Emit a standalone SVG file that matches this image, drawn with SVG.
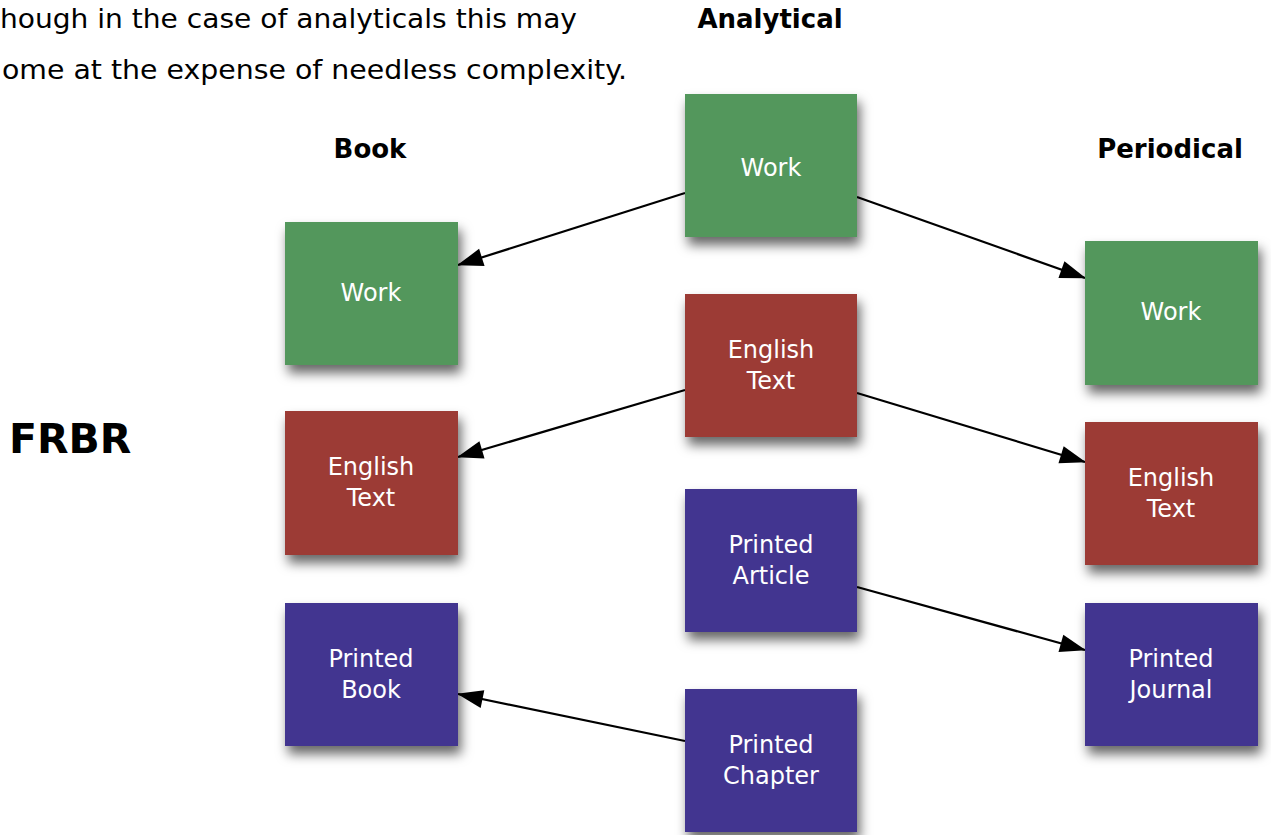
<svg xmlns="http://www.w3.org/2000/svg" width="1271" height="835" viewBox="0 0 1271 835">
<style>
.body{font-family:"DejaVu Sans","Liberation Sans",sans-serif;font-size:27px;fill:#000}
.hdr{font-family:"DejaVu Sans","Liberation Sans",sans-serif;font-size:26px;font-weight:bold;fill:#000;text-anchor:middle}
.big{font-family:"DejaVu Sans","Liberation Sans",sans-serif;font-size:41px;font-weight:bold;fill:#000}
.lbl{font-family:"DejaVu Sans","Liberation Sans",sans-serif;font-size:24px;fill:#fff;text-anchor:middle}
.g{fill:#52975C}
.r{fill:#9C3A35}
.p{fill:#433590}
.box{filter:url(#sh)}
.edge{stroke:#000;stroke-width:2.2;fill:none;marker-end:url(#ah)}
</style>
<defs>
<filter id="sh" x="-20%" y="-20%" width="150%" height="150%">
<feDropShadow dx="3" dy="8" stdDeviation="6" flood-color="#000" flood-opacity="0.6"/>
</filter>
<marker id="ah" viewBox="0 0 26 18" refX="25" refY="9" markerWidth="26" markerHeight="18" markerUnits="userSpaceOnUse" orient="auto" overflow="visible">
<path d="M0,0 L26,9 L0,18 z" fill="#000"/>
</marker>
</defs>
<rect width="1271" height="835" fill="#fff"/>
<text class="body" x="0" y="28" textLength="577" lengthAdjust="spacingAndGlyphs">hough in the case of analyticals this may</text>
<text class="body" x="2" y="79" textLength="625" lengthAdjust="spacingAndGlyphs">ome at the expense of needless complexity.</text>
<text class="hdr" x="770" y="28">Analytical</text>
<text class="hdr" x="370" y="158">Book</text>
<text class="hdr" x="1170" y="158">Periodical</text>
<text class="big" x="9" y="453">FRBR</text>

<g id="connectors">
<line class="edge" x1="685" y1="193" x2="458" y2="265"/>
<line class="edge" x1="857" y1="197" x2="1085" y2="278"/>
<line class="edge" x1="685" y1="390" x2="458" y2="457"/>
<line class="edge" x1="857" y1="393" x2="1085" y2="462"/>
<line class="edge" x1="857" y1="587" x2="1085" y2="650"/>
<line class="edge" x1="685" y1="741" x2="458" y2="694"/>
</g>

<g id="a-work"><rect class="box g" x="685" y="94" width="172" height="143"/><text class="lbl" x="771" y="176">Work</text></g>
<g id="a-text"><rect class="box r" x="685" y="294" width="172" height="143"/><text class="lbl" x="771" y="358">English</text><text class="lbl" x="771" y="389">Text</text></g>
<g id="a-article"><rect class="box p" x="685" y="489" width="172" height="143"/><text class="lbl" x="771" y="553">Printed</text><text class="lbl" x="771" y="584">Article</text></g>
<g id="a-chapter"><rect class="box p" x="685" y="689" width="172" height="143"/><text class="lbl" x="771" y="753">Printed</text><text class="lbl" x="771" y="784">Chapter</text></g>

<g id="b-work"><rect class="box g" x="285" y="222" width="173" height="143"/><text class="lbl" x="371" y="301">Work</text></g>
<g id="b-text"><rect class="box r" x="285" y="411" width="173" height="144"/><text class="lbl" x="371" y="475">English</text><text class="lbl" x="371" y="506">Text</text></g>
<g id="b-book"><rect class="box p" x="285" y="603" width="173" height="143"/><text class="lbl" x="371" y="667">Printed</text><text class="lbl" x="371" y="698">Book</text></g>

<g id="p-work"><rect class="box g" x="1085" y="241" width="173" height="144"/><text class="lbl" x="1171" y="320">Work</text></g>
<g id="p-text"><rect class="box r" x="1085" y="422" width="173" height="143"/><text class="lbl" x="1171" y="486">English</text><text class="lbl" x="1171" y="517">Text</text></g>
<g id="p-journal"><rect class="box p" x="1085" y="603" width="173" height="143"/><text class="lbl" x="1171" y="667">Printed</text><text class="lbl" x="1171" y="698">Journal</text></g>
</svg>
